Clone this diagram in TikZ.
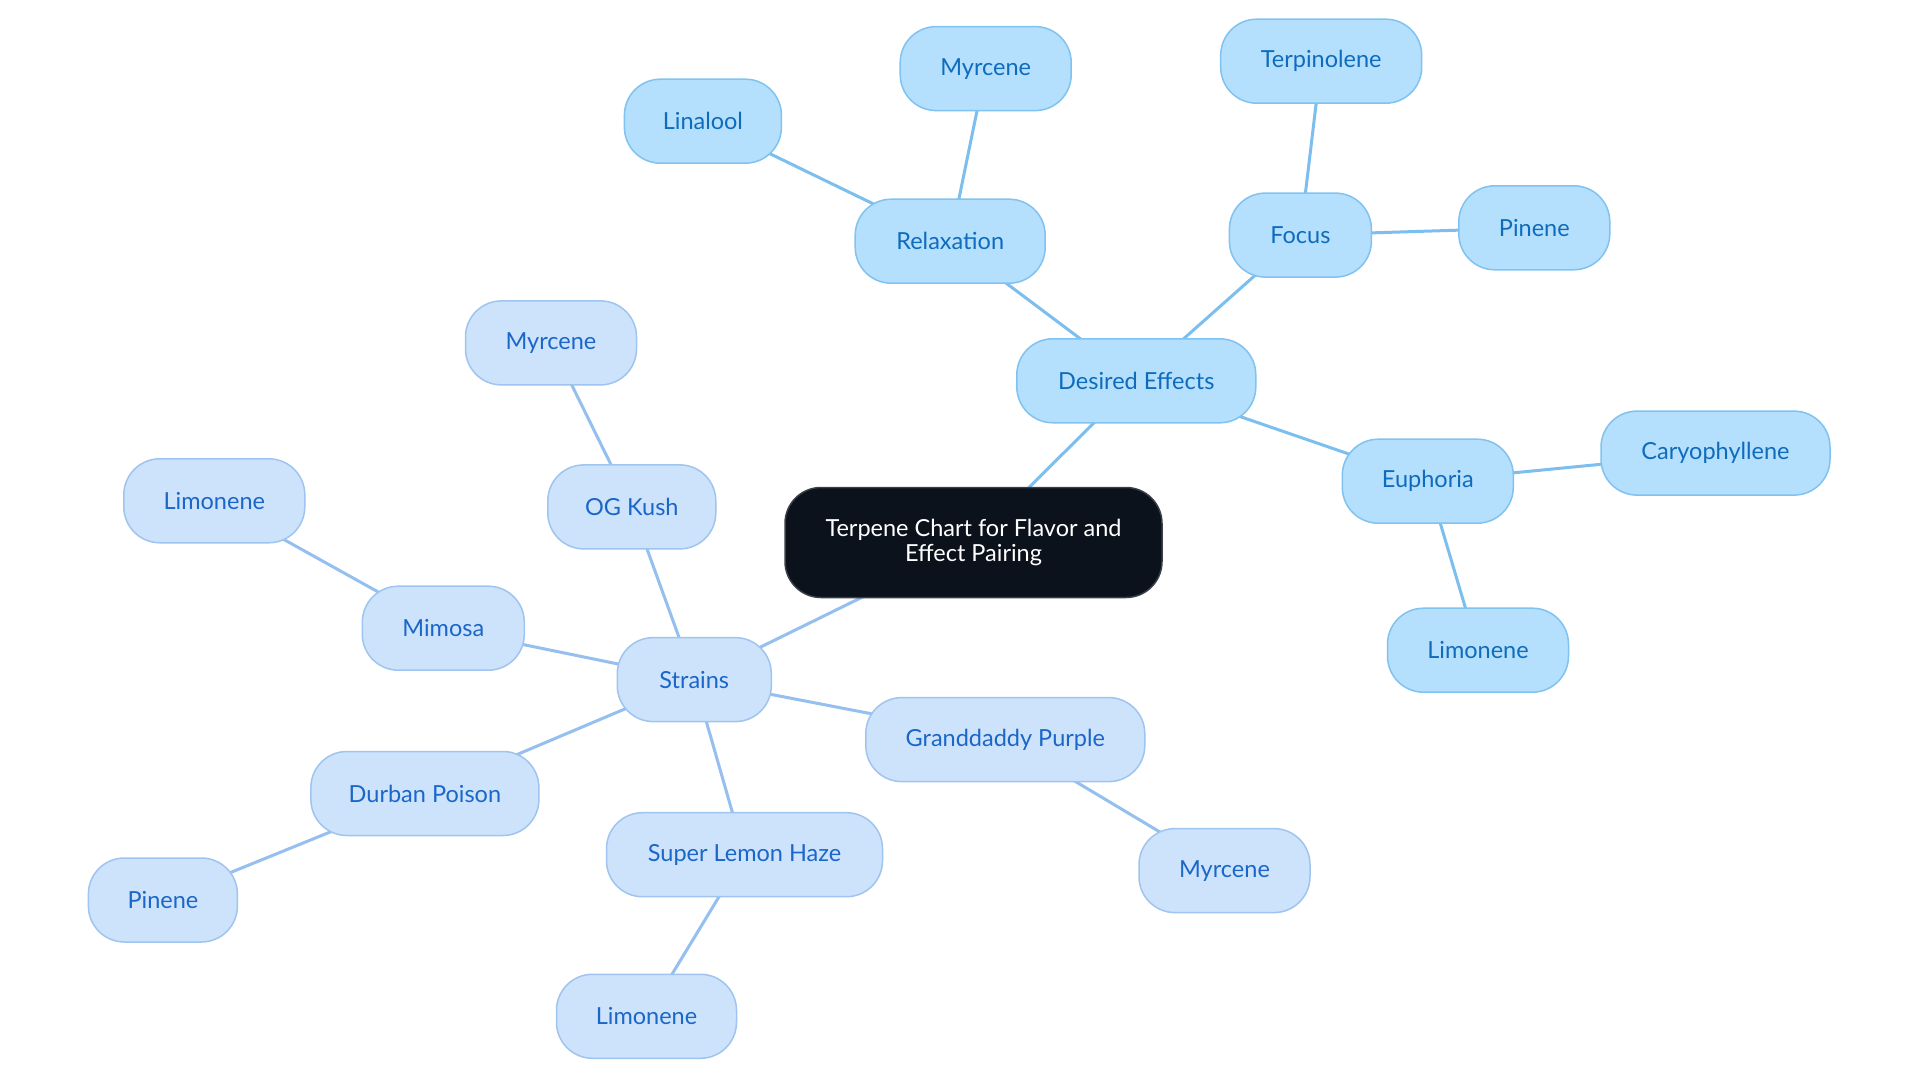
\documentclass[tikz,border=0pt]{standalone}
\usepackage{fontspec}
\setmainfont{Lato}
\pgfdeclarelayer{background}
\pgfsetlayers{background,main}
\begin{document}
\begin{tikzpicture}[x=1pt,y=-1pt,
  every node/.style={font=\fontsize{23.5}{25}\selectfont},
  effbox/.style={draw=effborder, fill=efffill, text=efftext, line width=1.5pt,
    rounded corners=36pt, minimum height=84pt, inner xsep=6pt},
  strbox/.style={draw=strborder, fill=strfill, text=strtext, line width=1.5pt,
    rounded corners=36pt, minimum height=84pt, inner xsep=6pt},
  rootbox/.style={draw=rootborder, fill=rootfill, text=white, line width=1.5pt,
    rounded corners=36pt, minimum height=110pt, minimum width=377pt, align=center},
  effline/.style={draw=effedge, line width=3pt},
  strline/.style={draw=stredge, line width=3pt}]
\definecolor{efffill}{HTML}{B4DFFD}
\definecolor{effborder}{HTML}{80C2F0}
\definecolor{efftext}{HTML}{0F6CBD}
\definecolor{effedge}{HTML}{7CBFEE}
\definecolor{strfill}{HTML}{CDE3FB}
\definecolor{strborder}{HTML}{9FC4EF}
\definecolor{strtext}{HTML}{1B66C9}
\definecolor{stredge}{HTML}{94BFEE}
\definecolor{rootfill}{HTML}{0B121C}
\definecolor{rootborder}{HTML}{3A3F46}
\useasboundingbox (0,0) rectangle (1920,1083);

% nodes
\node[rootbox] (root) at (973.5,542.5) {Terpene Chart for Flavor and\\Effect Pairing};

\node[effbox, minimum width=239pt] (eff) at (1136.3,380.8) {Desired Effects};
\node[effbox, minimum width=190pt] (relax) at (950.2,241.2) {Relaxation};
\node[effbox, minimum width=157pt] (lina) at (702.9,121.2) {Linalool};
\node[effbox, minimum width=171pt] (myr1) at (985.7,68.6) {Myrcene};
\node[effbox, minimum width=142pt] (focus) at (1300.4,235.1) {Focus};
\node[effbox, minimum width=201pt] (terp) at (1321.2,61.2) {Terpinolene};
\node[effbox, minimum width=151pt] (pin1) at (1534.3,227.8) {Pinene};
\node[effbox, minimum width=171pt] (euph) at (1427.8,481.2) {Euphoria};
\node[effbox, minimum width=229pt] (cary) at (1715.5,453.1) {Caryophyllene};
\node[effbox, minimum width=181pt] (lim1) at (1478,650.2) {Limonene};

\node[strbox, minimum width=154pt] (strains) at (694.3,679.6) {Strains};
\node[strbox, minimum width=168pt] (og) at (631.8,506.9) {OG Kush};
\node[strbox, minimum width=171pt] (myr2) at (551,342.9) {Myrcene};
\node[strbox, minimum width=162pt] (mimosa) at (443.3,628.2) {Mimosa};
\node[strbox, minimum width=181pt] (lim2) at (214.3,500.8) {Limonene};
\node[strbox, minimum width=228pt] (durban) at (424.9,793.5) {Durban Poison};
\node[strbox, minimum width=149pt] (pin2) at (162.9,900) {Pinene};
\node[strbox, minimum width=276pt] (slh) at (744.5,854.7) {Super Lemon Haze};
\node[strbox, minimum width=180pt] (lim3) at (646.5,1016.3) {Limonene};
\node[strbox, minimum width=279pt] (gdp) at (1005.3,739.6) {Granddaddy Purple};
\node[strbox, minimum width=171pt] (myr3) at (1224.5,870.6) {Myrcene};

% connectors, centre to centre, drawn behind the boxes
\begin{pgfonlayer}{background}
\fill[white] (0,0) rectangle (1920,1083);
\path[effline] (root.center) -- (eff.center);
\path[effline] (eff.center) -- (relax.center);
\path[effline] (relax.center) -- (lina.center);
\path[effline] (relax.center) -- (myr1.center);
\path[effline] (eff.center) -- (focus.center);
\path[effline] (focus.center) -- (terp.center);
\path[effline] (focus.center) -- (pin1.center);
\path[effline] (eff.center) -- (euph.center);
\path[effline] (euph.center) -- (cary.center);
\path[effline] (euph.center) -- (lim1.center);

\path[strline] (root.center) -- (strains.center);
\path[strline] (strains.center) -- (og.center);
\path[strline] (og.center) -- (myr2.center);
\path[strline] (strains.center) -- (mimosa.center);
\path[strline] (mimosa.center) -- (lim2.center);
\path[strline] (strains.center) -- (durban.center);
\path[strline] (durban.center) -- (pin2.center);
\path[strline] (strains.center) -- (slh.center);
\path[strline] (slh.center) -- (lim3.center);
\path[strline] (strains.center) -- (gdp.center);
\path[strline] (gdp.center) -- (myr3.center);
\end{pgfonlayer}
\end{tikzpicture}
\end{document}
